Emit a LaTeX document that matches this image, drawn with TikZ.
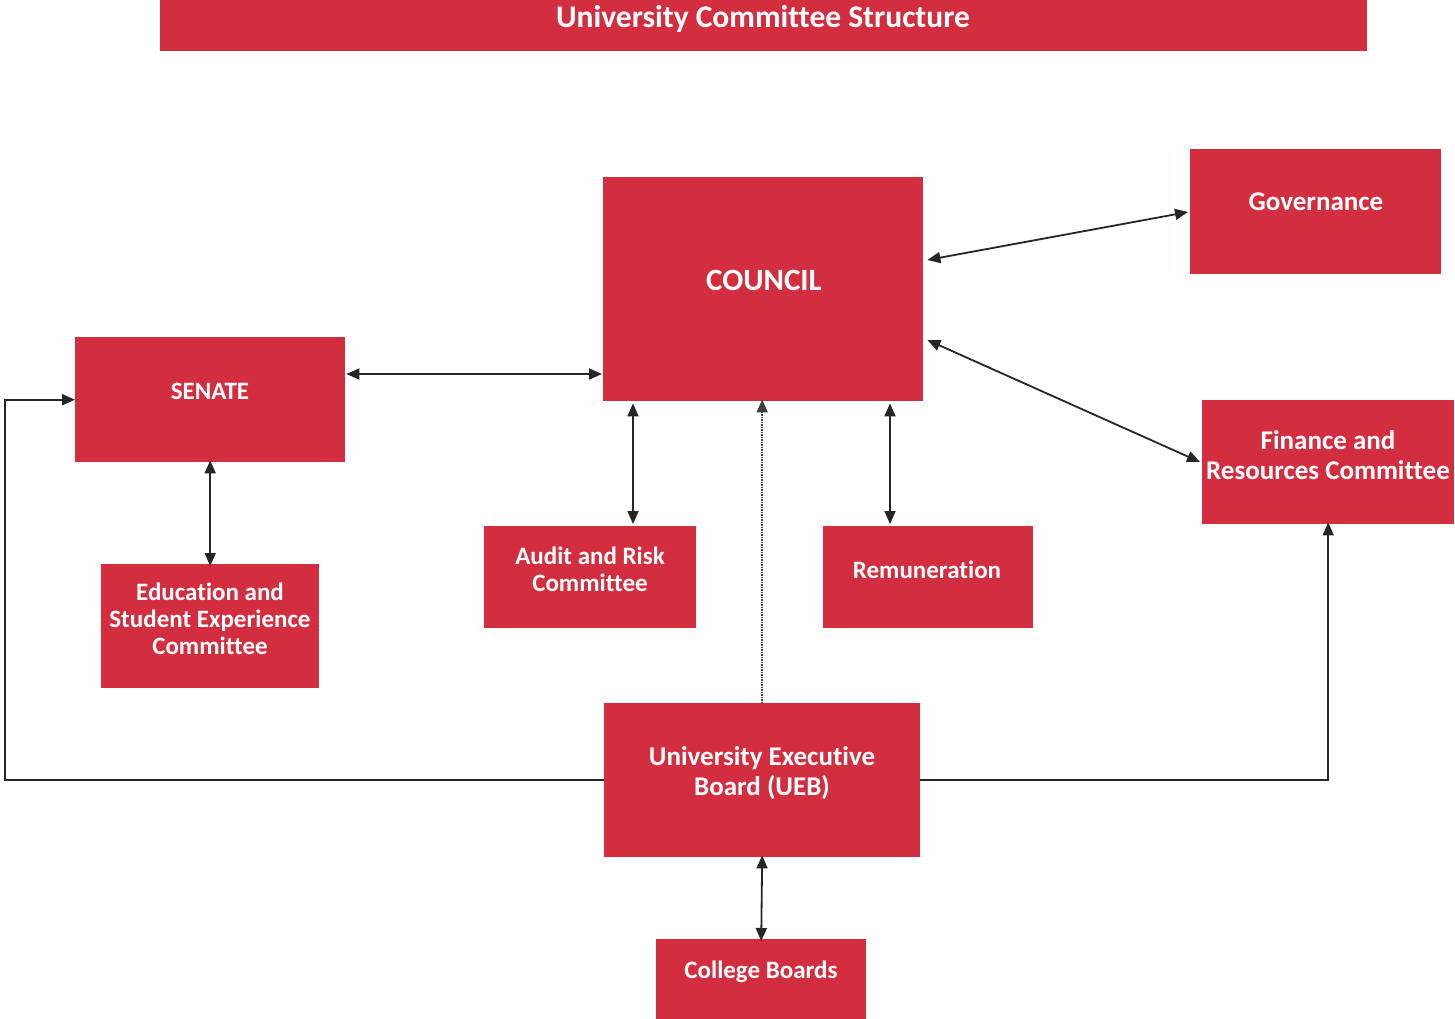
\documentclass[tikz,border=0pt]{standalone}
\usepackage{fontspec}
\setmainfont{Carlito}[Ligatures=NoCommon]
\usetikzlibrary{arrows.meta}
\definecolor{ured}{RGB}{211,46,63}
\begin{document}
\begin{tikzpicture}[x=1pt,y=-1pt,
  box/.style={fill=ured,draw=none,inner sep=0pt,anchor=north west},
  lbl/.style={text=white,font=\bfseries\fontsize{25}{28}\selectfont,align=center,inner sep=0pt},
  conn/.style={line width=1.8pt,draw=black!85},
  tip/.style={-{Triangle[length=13pt,width=11pt]}},
  dtip/.style={{Triangle[length=13pt,width=11pt]}-{Triangle[length=13pt,width=11pt]}}]
\useasboundingbox[fill=white] (0,0) rectangle (1455,1019);
% boxes
\node[box,minimum width=1207pt,minimum height=51pt] (title) at (160,0) {};
\node[box,minimum width=320pt,minimum height=224pt] (council) at (603,177) {};
\node[box,minimum width=251pt,minimum height=125pt] (gov) at (1190,149) {};
\node[box,minimum width=270pt,minimum height=125pt] (senate) at (75,337) {};
\node[box,minimum width=252pt,minimum height=124pt] (fin) at (1202,400) {};
\node[box,minimum width=212pt,minimum height=102pt] (audit) at (484,526) {};
\node[box,minimum width=210pt,minimum height=102pt] (remun) at (823,526) {};
\node[box,minimum width=218pt,minimum height=124pt] (edu) at (101,564) {};
\node[box,minimum width=316pt,minimum height=154pt] (ueb) at (604,703) {};
\node[box,minimum width=210pt,minimum height=80pt] (college) at (656,939) {};
% labels
\node[lbl,font=\bfseries\fontsize{31.5}{34}\selectfont] (title-t) at (763,19) {University Committee Structure};
\node[lbl,font=\bfseries\fontsize{31}{34}\selectfont] (council-t) at (764,280) {COUNCIL};
\node[lbl,font=\bfseries\fontsize{27}{30}\selectfont] (gov-t) at (1316,202) {Governance};
\node[lbl] (senate-t) at (210,391) {SENATE};
\node[lbl,font=\bfseries\fontsize{27}{30}\selectfont] (fin-t) at (1328,455) {Finance and\\Resources Committee};
\node[lbl,font=\bfseries\fontsize{25}{27}\selectfont] (audit-t) at (590,569) {Audit and Risk\\Committee};
\node[lbl] (remun-t) at (927,570) {Remuneration};
\node[lbl,font=\bfseries\fontsize{25}{27}\selectfont] (edu-t) at (210,619) {Education and\\Student Experience\\Committee};
\node[lbl,font=\bfseries\fontsize{27}{30}\selectfont] (ueb-t) at (762,773) {University Executive\\Board (UEB)};
\node[lbl] (college-t) at (761,972) {College Boards};
% connectors
\draw[conn,dtip] ([shift={(4,83)}]council.north east) -- ([shift={(-2,63)}]gov.north west);
\draw[conn,dtip] ([shift={(4,163)}]council.north east) -- ([shift={(-2,62)}]fin.north west);
\draw[conn,dtip] ([shift={(1,37)}]senate.north east) -- ([shift={(-1,197)}]council.north west);
\draw[conn,dtip] ([shift={(30,2)}]council.south west) -- ([shift={(149,-2)}]audit.north west);
\draw[conn,dtip] ([shift={(287,2)}]council.south west) -- ([shift={(67,-2)}]remun.north west);
\draw[conn,dtip] ([yshift=2]senate.south) -- ([yshift=-2]edu.north);
\draw[conn,dtip] ([yshift=2]ueb.south) -- ([yshift=-2]college.north);
\draw[line width=1.6pt,draw=black!75,dash pattern=on 1.5pt off 1pt,tip] (ueb.north) -- ([yshift=2]ueb.north |- council.south);
\coordinate (lcorner) at (5,781);
\draw[conn,tip] (ueb.west) -- (ueb.west -| lcorner) |- (senate.west);
\draw[conn,tip] (ueb.east) -| ([yshift=2]fin.south);
\end{tikzpicture}
\end{document}
